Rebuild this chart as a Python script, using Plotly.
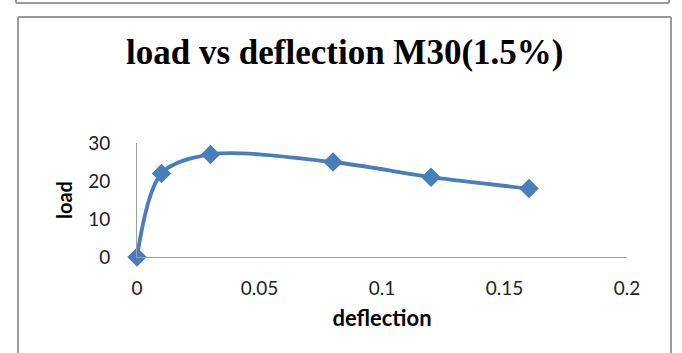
import plotly.graph_objects as go

# Load-deflection test readings for M30 concrete (1.5%)
deflection = [0, 0.01, 0.03, 0.08, 0.12, 0.16]
load = [0, 22, 27, 25, 21, 18]

x_ticks = [0, 0.05, 0.1, 0.15, 0.2]
x_tick_labels = ["0", "0.05", "0.1", "0.15", "0.2"]
y_ticks = [0, 10, 20, 30]
y_tick_labels = ["0", "10", "20", "30"]

W, H = 682, 353
L, R, T, B = 137, 55, 143, 96
pw, ph = W - L - R, H - T - B


def px_x(px):
    return (px - L) / pw


def px_y(py):
    return (H - B - py) / ph


line_color = "#4A7EBB"
frame_color = "#9a9a9a"

fig = go.Figure()
fig.add_trace(go.Scatter(
    x=deflection, y=load,
    mode="lines+markers",
    line=dict(color=line_color, width=3.8, shape="spline", smoothing=0.9),
    marker=dict(symbol="diamond", size=15, color=line_color),
    cliponaxis=False,
    showlegend=False,
))

shapes = [
    # bottom edge of the chart box above
    dict(type="line", xref="paper", yref="paper",
         x0=px_x(16), x1=px_x(669), y0=px_y(3), y1=px_y(3),
         line=dict(color=frame_color, width=2)),
    dict(type="line", xref="paper", yref="paper",
         x0=px_x(16), x1=px_x(16), y0=px_y(-5), y1=px_y(3),
         line=dict(color=frame_color, width=2)),
    dict(type="line", xref="paper", yref="paper",
         x0=px_x(669), x1=px_x(669), y0=px_y(-5), y1=px_y(3),
         line=dict(color=frame_color, width=2)),
    # chart box frame
    dict(type="line", xref="paper", yref="paper",
         x0=px_x(18), x1=px_x(671), y0=px_y(17), y1=px_y(17),
         line=dict(color=frame_color, width=2)),
    dict(type="line", xref="paper", yref="paper",
         x0=px_x(18), x1=px_x(18), y0=px_y(17), y1=px_y(360),
         line=dict(color=frame_color, width=2)),
    dict(type="line", xref="paper", yref="paper",
         x0=px_x(671), x1=px_x(671), y0=px_y(17), y1=px_y(360),
         line=dict(color=frame_color, width=2)),
]

annotations = [
    dict(text="<b>load vs deflection M30(1.5%)</b>", xref="paper", yref="paper",
         x=px_x(344), y=px_y(52), showarrow=False, xanchor="center", yanchor="middle",
         font=dict(family="Liberation Serif", size=35, color="#000000")),
]

fig.update_layout(
    width=W, height=H,
    margin=dict(l=L, r=R, t=T, b=B),
    paper_bgcolor="white", plot_bgcolor="white",
    shapes=shapes, annotations=annotations,
    xaxis=dict(
        range=[0, 0.2], tickvals=x_ticks, ticktext=x_tick_labels,
        showgrid=False, zeroline=False, showline=True,
        linecolor="#a0a0a0", linewidth=1, ticks="",
        ticklabelstandoff=14,
        tickfont=dict(family="Lato", size=19, color="#222222"),
        title=dict(text="<b>deflection</b>", standoff=12,
                   font=dict(family="Lato", size=22, color="#000000")),
    ),
    yaxis=dict(
        range=[0, 30], tickvals=y_ticks, ticktext=y_tick_labels,
        showgrid=False, zeroline=False, showline=True,
        linecolor="#a0a0a0", linewidth=1, ticks="",
        ticklabelstandoff=22,
        tickfont=dict(family="Lato", size=19, color="#222222"),
        title=dict(text="<b>load</b>", standoff=10,
                   font=dict(family="Lato", size=20, color="#000000")),
    ),
)

fig.write_html("out.html")
